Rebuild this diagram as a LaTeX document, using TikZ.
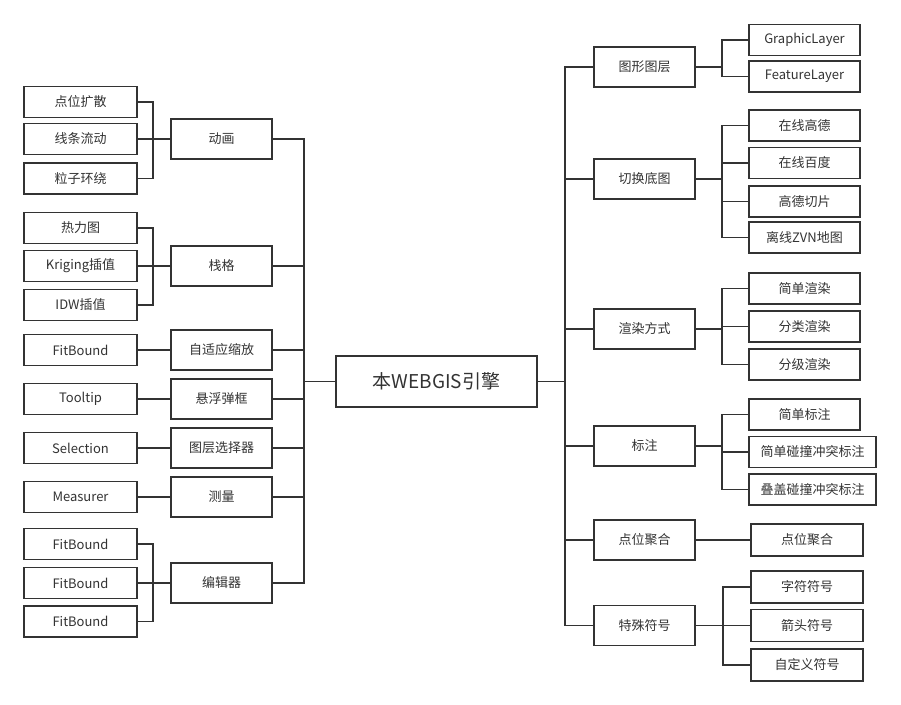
\documentclass[tikz,border=0pt]{standalone}
\usepackage{fontspec}
\setmainfont{Noto Sans CJK SC}
\definecolor{ln}{HTML}{333333}
\definecolor{tx}{HTML}{333333}
\begin{document}
\begin{tikzpicture}[x=1pt,y=-1pt,
  box/.style={draw=ln,line width=1.8pt,fill=white,text=tx,inner sep=0pt,font=\fontsize{13}{15}\selectfont},
  leafL/.style={box,minimum width=113pt,minimum height=31pt},
  midbox/.style={box,minimum width=101pt,minimum height=40pt},
  leafR/.style={box,minimum width=111pt,minimum height=31pt},
  leafRw/.style={box,minimum width=127pt,minimum height=31pt},
  leafRs/.style={box,minimum width=112pt,minimum height=32pt},
  conn/.style={draw=ln,line width=1.8pt}]
\useasboundingbox (0,0) rectangle (901,704);
% center
\node[box,minimum width=201pt,minimum height=51pt,font=\fontsize{19}{22}\selectfont] (c) at (436.5,381.5) {本WEBGIS引擎};
% left mid
\node[midbox] (ma) at (221.5,139) {动画};
\node[midbox] (mb) at (221.5,266) {栈格};
\node[midbox] (mc) at (221.5,350) {自适应缩放};
\node[midbox] (md) at (221.5,399) {悬浮弹框};
\node[midbox] (me) at (221.5,448) {图层选择器};
\node[midbox] (mf) at (221.5,497) {测量};
\node[midbox] (mg) at (221.5,583) {编辑器};
% left leaves
\node[leafL] (a1) at (80.5,102) {点位扩散};
\node[leafL] (a2) at (80.5,139) {线条流动};
\node[leafL] (a3) at (80.5,178.5) {粒子环绕};
\node[leafL] (b1) at (80.5,228) {热力图};
\node[leafL] (b2) at (80.5,266) {Kriging插值};
\node[leafL] (b3) at (80.5,305) {IDW插值};
\node[leafL] (c1) at (80.5,350) {FitBound};
\node[leafL] (d1) at (80.5,399) {Tooltip};
\node[leafL] (e1) at (80.5,448) {Selection};
\node[leafL] (f1) at (80.5,497) {Measurer};
\node[leafL] (g1) at (80.5,544) {FitBound};
\node[leafL] (g2) at (80.5,583) {FitBound};
\node[leafL] (g3) at (80.5,621.5) {FitBound};
% right mid
\node[midbox] (r1) at (644.5,67) {图形图层};
\node[midbox] (r2) at (644.5,179) {切换底图};
\node[midbox] (r3) at (644.5,329) {渲染方式};
\node[midbox] (r4) at (644.5,446) {标注};
\node[midbox] (r5) at (644.5,540) {点位聚合};
\node[midbox] (r6) at (644.5,625.5) {特殊符号};
% right leaves
\node[leafR] (s11) at (804.5,40) {GraphicLayer};
\node[leafR] (s12) at (804.5,76.5) {FeatureLayer};
\node[leafR] (s21) at (804.5,125.5) {在线高德};
\node[leafR] (s22) at (804.5,163) {在线百度};
\node[leafR] (s23) at (804.5,201.5) {高德切片};
\node[leafR] (s24) at (804.5,237.5) {离线ZVN地图};
\node[leafR] (s31) at (804.5,288.5) {简单渲染};
\node[leafR] (s32) at (804.5,326.5) {分类渲染};
\node[leafR] (s33) at (804.5,364.5) {分级渲染};
\node[leafR] (s41) at (804.5,414.5) {简单标注};
\node[leafRw] (s42) at (812.5,452) {简单碰撞冲突标注};
\node[leafRw] (s43) at (812.5,489.5) {叠盖碰撞冲突标注};
\node[leafRs] (s51) at (807,540) {点位聚合};
\node[leafRs] (s61) at (807,587) {字符符号};
\node[leafRs] (s62) at (807,625.5) {箭头符号};
\node[leafRs] (s63) at (807,665) {自定义符号};
% junction coordinates
\coordinate (lt) at (304,381.5);
\coordinate (rt) at (565,381.5);
\coordinate (ja) at (153,139);
\coordinate (jb) at (153,266);
\coordinate (jg) at (153,583);
\coordinate (k1) at (722,67);
\coordinate (k2) at (722,179);
\coordinate (k3) at (722,329);
\coordinate (k4) at (722,446);
\coordinate (k6) at (723,625.5);
% connectors
\draw[conn] (c.west) -- (lt);
\draw[conn] (c.east) -- (rt);
\draw[conn] (ma.east) -| (lt);
\draw[conn] (mg.east) -| (lt);
\foreach \m in {mb,mc,md,me,mf} \draw[conn] (\m.east) -- (\m.east -| lt);
\draw[conn] (r1.west) -| (rt);
\draw[conn] (r6.west) -| (rt);
\foreach \m in {r2,r3,r4,r5} \draw[conn] (\m.west) -- (\m.west -| rt);
% left groups
\draw[conn] (a1.east) -| (ja); \draw[conn] (a3.east) -| (ja);
\draw[conn] (a2.east) -- (ma.west);
\draw[conn] (b1.east) -| (jb); \draw[conn] (b3.east) -| (jb);
\draw[conn] (b2.east) -- (mb.west);
\draw[conn] (c1.east) -- (mc.west);
\draw[conn] (d1.east) -- (md.west);
\draw[conn] (e1.east) -- (me.west);
\draw[conn] (f1.east) -- (mf.west);
\draw[conn] (g1.east) -| (jg); \draw[conn] (g3.east) -| (jg);
\draw[conn] (g2.east) -- (mg.west);
% right groups
\draw[conn] (r1.east) -- (k1);
\draw[conn] (s11.west) -| (k1); \draw[conn] (s12.west) -| (k1);
\draw[conn] (r2.east) -- (k2);
\draw[conn] (s21.west) -| (k2); \draw[conn] (s24.west) -| (k2);
\draw[conn] (s22.west) -- (s22.west -| k2); \draw[conn] (s23.west) -- (s23.west -| k2);
\draw[conn] (r3.east) -- (k3);
\draw[conn] (s31.west) -| (k3); \draw[conn] (s33.west) -| (k3);
\draw[conn] (s32.west) -- (s32.west -| k3);
\draw[conn] (r4.east) -- (k4);
\draw[conn] (s41.west) -| (k4); \draw[conn] (s43.west) -| (k4);
\draw[conn] (s42.west) -- (s42.west -| k4);
\draw[conn] (r5.east) -- (s51.west);
\draw[conn] (r6.east) -- (k6);
\draw[conn] (s61.west) -| (k6); \draw[conn] (s63.west) -| (k6);
\draw[conn] (s62.west) -- (k6);
\end{tikzpicture}
\end{document}
